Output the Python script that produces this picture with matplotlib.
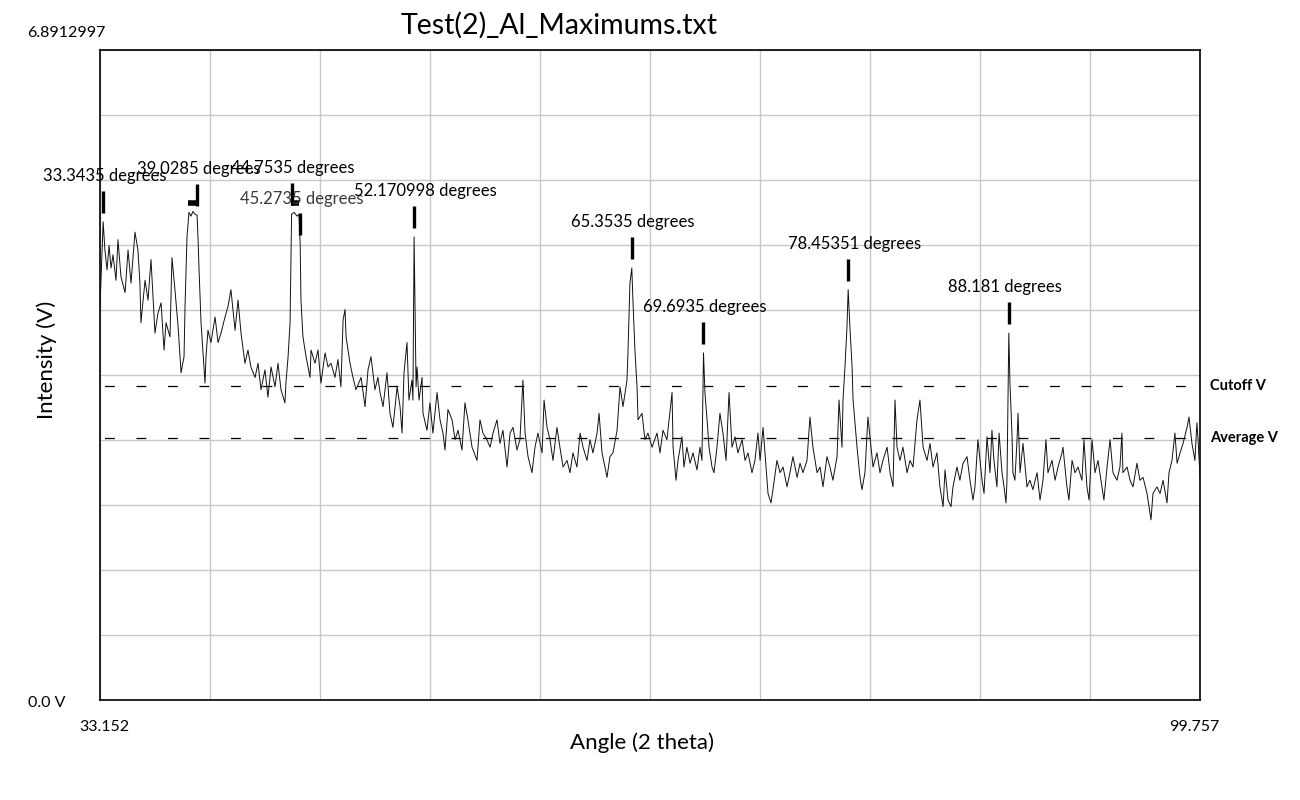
import matplotlib
matplotlib.use("Agg")
import matplotlib.pyplot as plt
import matplotlib.transforms as mtransforms

plt.rcParams['font.family'] = ['Lato', 'DejaVu Sans']

# ---------------- data ----------------
x_min, x_max = 33.152, 99.757
y_min, y_max = 0.0, 6.8912997
cutoff_v = 3.33
average_v = 2.78

angles_a = [33.152, 33.21, 33.3435, 33.45, 33.58, 33.70, 33.82, 33.94, 34.12, 34.24,
            34.42, 34.67, 34.85, 35.03, 35.27, 35.45, 35.57, 35.63, 35.88, 36.06,
            36.24, 36.48, 36.66, 36.85, 37.03, 37.15, 37.39, 37.51, 37.69, 37.88,
            38.06, 38.24, 38.30, 38.42, 38.54, 38.66, 38.78, 38.90, 39.0285, 39.09,
            39.15, 39.27, 39.51, 39.57, 39.69, 39.87, 40.12, 40.30, 40.48, 40.72,
            40.90, 41.08, 41.33, 41.51, 41.69, 41.93, 42.11, 42.29, 42.54, 42.72,
            42.90, 43.14, 43.32, 43.51, 43.75, 43.93, 44.11, 44.35, 44.41, 44.54,
            44.66, 44.72, 44.7535, 44.90, 45.08, 45.20, 45.2735, 45.32, 45.44, 45.63,
            45.87, 45.93, 46.17, 46.35, 46.53, 46.78, 46.96, 47.14, 47.38, 47.56,
            47.74, 47.87, 47.99, 48.05, 48.29, 48.47, 48.65, 48.96, 49.20, 49.38,
            49.56, 49.80, 49.98]
volts_a = [4.17, 4.45, 5.07, 4.77, 4.56, 4.82, 4.58, 4.72, 4.45, 4.88,
           4.49, 4.32, 4.77, 4.42, 4.96, 4.77, 4.42, 4.00, 4.45, 4.24,
           4.67, 3.89, 4.10, 4.21, 3.71, 4.00, 3.85, 4.69, 4.35, 3.96,
           3.47, 3.64, 4.17, 4.91, 5.17, 5.13, 5.18, 5.15, 5.14, 4.88,
           4.56, 4.00, 3.36, 3.64, 3.92, 3.79, 4.06, 3.79, 3.89, 4.06,
           4.17, 4.35, 3.92, 4.24, 3.89, 3.57, 3.71, 3.53, 3.42, 3.57,
           3.29, 3.50, 3.21, 3.53, 3.32, 3.57, 3.29, 3.15, 3.36, 3.64,
           4.00, 4.77, 5.15, 5.17, 5.13, 5.15, 4.83, 4.24, 3.85, 3.64,
           3.42, 3.71, 3.57, 3.71, 3.36, 3.68, 3.53, 3.57, 3.42, 3.61,
           3.32, 4.03, 4.14, 3.85, 3.57, 3.42, 3.29, 3.42, 3.11, 3.50,
           3.64, 3.29, 3.42]

angles_b = [50.11, 50.29, 50.53, 50.71, 50.89, 51.14, 51.32, 51.44, 51.56, 51.74,
            51.86, 52.04, 52.10, 52.170998, 52.29, 52.35, 52.47, 52.65, 52.71, 52.95,
            53.13, 53.31, 53.56, 53.74, 53.92, 54.04, 54.22, 54.47, 54.65, 54.83,
            55.07, 55.25, 55.43, 55.68, 55.98, 56.16, 56.34, 56.58, 56.77, 56.95,
            57.19, 57.37, 57.55, 57.80, 57.98, 58.16, 58.40, 58.58, 58.76, 58.89,
            59.07, 59.31, 59.49, 59.67, 59.92, 60.04, 60.22, 60.40, 60.58, 60.82,
            61.00, 61.19, 61.43, 61.61, 61.79, 62.03, 62.22, 62.40, 62.64, 62.82,
            63.00, 63.25, 63.37, 63.55, 63.73, 63.85, 64.03, 64.21, 64.46, 64.64,
            64.82, 65.06, 65.12, 65.24, 65.3535, 65.42, 65.55, 65.67, 65.73, 65.97,
            66.15, 66.33, 66.58, 66.88]
volts_b = [3.26, 3.11, 3.47, 3.04, 2.89, 3.32, 3.11, 2.83, 3.47, 3.79,
           3.18, 3.39, 3.18, 4.91, 3.32, 3.53, 3.18, 3.42, 3.04, 2.86,
           3.15, 2.83, 3.26, 2.97, 2.83, 2.65, 3.08, 2.97, 2.76, 2.86,
           2.65, 3.15, 2.97, 2.68, 2.54, 2.97, 2.83, 2.76, 2.68, 2.83,
           2.97, 2.72, 2.86, 2.47, 2.83, 2.89, 2.65, 2.76, 3.39, 2.83,
           2.58, 2.41, 2.68, 2.83, 2.62, 3.18, 2.89, 2.76, 2.54, 2.89,
           2.68, 2.47, 2.54, 2.41, 2.62, 2.47, 2.83, 2.68, 2.54, 2.76,
           2.62, 2.83, 3.04, 2.62, 2.47, 2.36, 2.58, 2.62, 2.86, 3.32,
           3.11, 3.39, 3.68, 4.42, 4.58, 4.24, 3.68, 3.32, 2.97, 3.04,
           2.76, 2.83, 2.68, 2.83]

angles_c = [67.06, 67.24, 67.48, 67.61, 67.79, 67.85, 68.03, 68.15, 68.39, 68.51,
            68.69, 68.88, 69.06, 69.30, 69.48, 69.60, 69.6935, 69.78, 69.91, 70.03,
            70.21, 70.33, 70.51, 70.69, 70.87, 71.06, 71.24, 71.42, 71.60, 71.78,
            72.03, 72.21, 72.39, 72.63, 72.81, 72.99, 73.12, 73.30, 73.48, 73.60,
            73.78, 73.90, 74.14, 74.33, 74.51, 74.75, 74.93, 75.11, 75.36, 75.54,
            75.72, 75.96, 76.14, 76.32, 76.57, 76.75, 76.93, 77.17, 77.35, 77.53,
            77.78, 77.90, 78.08, 78.14, 78.26, 78.38, 78.45351, 78.56, 78.69, 78.75,
            78.99, 79.17, 79.29, 79.47, 79.65, 79.84, 79.96, 80.20, 80.38, 80.56,
            80.81, 80.99, 81.17, 81.29, 81.41, 81.59, 81.77, 82.02, 82.20, 82.38,
            82.62, 82.80, 82.99, 83.23]
volts_c = [2.62, 2.86, 2.76, 2.97, 3.26, 2.68, 2.33, 2.54, 2.79, 2.47,
           2.68, 2.51, 2.62, 2.44, 2.68, 2.54, 3.68, 3.26, 2.97, 2.68,
           2.47, 2.41, 2.68, 3.04, 2.83, 2.54, 3.26, 2.68, 2.79, 2.62,
           2.76, 2.54, 2.62, 2.41, 2.54, 2.83, 2.54, 2.89, 2.47, 2.19,
           2.09, 2.23, 2.54, 2.41, 2.47, 2.26, 2.41, 2.58, 2.36, 2.51,
           2.41, 2.54, 3.00, 2.68, 2.41, 2.47, 2.26, 2.58, 2.47, 2.33,
           2.58, 3.18, 2.68, 3.18, 3.53, 3.95, 4.35, 3.95, 3.53, 3.18,
           2.68, 2.36, 2.23, 2.41, 3.00, 2.68, 2.47, 2.62, 2.41, 2.54,
           2.68, 2.41, 2.26, 3.18, 2.68, 2.54, 2.68, 2.41, 2.54, 2.47,
           2.97, 3.18, 2.68, 2.54]

angles_d = [83.41, 83.59, 83.83, 84.01, 84.20, 84.32, 84.50, 84.68, 84.80, 85.04,
            85.22, 85.41, 85.65, 85.83, 86.01, 86.13, 86.31, 86.56, 86.68, 86.86,
            87.04, 87.16, 87.28, 87.46, 87.59, 87.77, 87.89, 88.01, 88.07, 88.181,
            88.25, 88.37, 88.43, 88.55, 88.68, 88.74, 88.86, 89.04, 89.28, 89.46,
            89.64, 89.89, 90.07, 90.25, 90.43, 90.55, 90.80, 90.98, 91.16, 91.40,
            91.46, 91.70, 91.82, 92.01, 92.19, 92.37, 92.61, 92.73, 92.91, 93.04,
            93.22, 93.40, 93.58, 93.82, 93.94, 94.13, 94.31, 94.49, 94.73, 94.91,
            95.03, 95.09, 95.34, 95.52, 95.70, 95.94, 96.12, 96.31, 96.55, 96.67,
            96.79, 96.91, 97.15, 97.34, 97.52, 97.76, 97.88, 98.06, 98.24, 98.37,
            98.55, 98.73, 98.97, 99.09, 99.27, 99.45, 99.57, 99.64, 99.757]
volts_d = [2.72, 2.47, 2.62, 2.26, 2.05, 2.44, 2.12, 2.05, 2.26, 2.47,
           2.33, 2.51, 2.58, 2.33, 2.12, 2.26, 2.76, 2.33, 2.19, 2.79,
           2.41, 2.86, 2.54, 2.26, 2.83, 2.41, 2.26, 2.09, 2.33, 3.89,
           3.36, 2.83, 2.41, 2.33, 2.76, 3.04, 2.41, 2.72, 2.26, 2.33,
           2.23, 2.41, 2.12, 2.33, 2.76, 2.41, 2.54, 2.33, 2.47, 2.62,
           2.68, 2.26, 2.12, 2.54, 2.41, 2.47, 2.33, 2.76, 2.26, 2.12,
           2.76, 2.41, 2.54, 2.26, 2.12, 2.47, 2.76, 2.41, 2.33, 2.47,
           2.83, 2.41, 2.47, 2.33, 2.26, 2.51, 2.33, 2.36, 2.19, 2.05,
           1.91, 2.19, 2.26, 2.19, 2.33, 2.09, 2.41, 2.54, 2.83, 2.51,
           2.62, 2.72, 2.89, 3.00, 2.72, 2.54, 2.94, 2.76, 2.36]

peak_angles = [33.3435, 39.0285, 44.7535, 45.2735, 52.170998, 65.3535, 69.6935, 78.45351, 88.181]
peak_labels = ["33.3435 degrees", "39.0285 degrees", "44.7535 degrees", "45.2735 degrees",
               "52.170998 degrees", "65.3535 degrees", "69.6935 degrees", "78.45351 degrees",
               "88.181 degrees"]
peak_label_colors = ["black", "black", "black", "#3a3a3a", "black", "black", "black", "black", "black"]

# flat marker bars on the clustered maxima (start angle, end angle, level)
bar_starts = [38.48, 44.71]
bar_ends = [39.03, 45.21]
bar_levels = [5.27, 5.27]

title = "Test(2)_Al_Maximums.txt"
x_label = "Angle (2 theta)"
y_label = "Intensity (V)"

angles = angles_a + angles_b + angles_c + angles_d
volts = volts_a + volts_b + volts_c + volts_d
assert len(angles) == len(volts)
lookup = dict(zip(angles, volts))
peak_values = [lookup[a] for a in peak_angles]

# ---------------- figure ----------------
fig = plt.figure(figsize=(13, 8), dpi=100)
ax = fig.add_axes([100 / 1300, 100 / 800, 1100 / 1300, 650 / 800])
ax.set_xlim(x_min, x_max)
ax.set_ylim(y_min, y_max)

# grid: 10 x 10 divisions
nd = 10
ax.set_xticks([x_min + (x_max - x_min) * i / nd for i in range(nd + 1)])
ax.set_yticks([y_min + (y_max - y_min) * i / nd for i in range(nd + 1)])
ax.tick_params(length=0, labelbottom=False, labelleft=False)
ax.grid(True, color="#c8c8c8", linewidth=1.0)
ax.set_axisbelow(True)
for s in ax.spines.values():
    s.set_color("black")
    s.set_linewidth(1.2)

# curve
ax.plot(angles, volts, color="#111111", linewidth=0.7, zorder=3)

# cutoff / average dashed lines
dash = (21.6, (7.9, 17.3))
ax.axhline(cutoff_v, color="black", linewidth=0.9, linestyle=dash, zorder=2)
ax.axhline(average_v, color="black", linewidth=0.9, linestyle=dash, zorder=2)

# peak markers and labels
for a, v, lab, c in zip(peak_angles, peak_values, peak_labels, peak_label_colors):
    ax.vlines(a, v + 0.095, v + 0.33, color="black", linewidth=2.4, zorder=4)
    ax.annotate(lab, xy=(a, v), xytext=(-43.5, 33), textcoords="offset points",
                ha="left", va="center", fontsize=12, color=c, zorder=5)
for s0, s1, lv in zip(bar_starts, bar_ends, bar_levels):
    ax.hlines(lv, s0, s1, color="black", linewidth=4.0, zorder=4)

# right-side line labels
trans_r = mtransforms.blended_transform_factory(ax.transAxes, ax.transData)
ax.annotate("Cutoff V", xy=(1, cutoff_v), xycoords=trans_r, xytext=(7, 0),
            textcoords="offset points", ha="left", va="center", fontsize=10.5,
            fontweight="bold", annotation_clip=False)
ax.annotate("Average V", xy=(1, average_v), xycoords=trans_r, xytext=(7, 0),
            textcoords="offset points", ha="left", va="center", fontsize=10.5,
            fontweight="bold", annotation_clip=False)

# axis extreme labels
ax.annotate(f"{y_max:.7f}", xy=(0, 1), xycoords="axes fraction", xytext=(3.6, 12.2),
            textcoords="offset points", ha="right", va="center", fontsize=11.5)
ax.annotate(f"{y_min:.1f} V", xy=(0, 0), xycoords="axes fraction", xytext=(-25, -2.2),
            textcoords="offset points", ha="right", va="center", fontsize=11.5)
ax.annotate(f"{x_min:.3f}", xy=(0, 0), xycoords="axes fraction", xytext=(3, -19.5),
            textcoords="offset points", ha="center", va="center", fontsize=11.5)
ax.annotate(f"{x_max:.3f}", xy=(1, 0), xycoords="axes fraction", xytext=(-4.3, -19.5),
            textcoords="offset points", ha="center", va="center", fontsize=11.5)

fig.text(559 / 1300, 1 - 25 / 800, title, ha="center", va="center", fontsize=20.5)
fig.text(642 / 1300, 1 - 743 / 800, x_label, ha="center", va="center", fontsize=16)
fig.text(47 / 1300, 1 - 360 / 800, y_label, ha="center", va="center", fontsize=16, rotation=90)

fig.savefig("out.png", dpi=100, facecolor="white")
